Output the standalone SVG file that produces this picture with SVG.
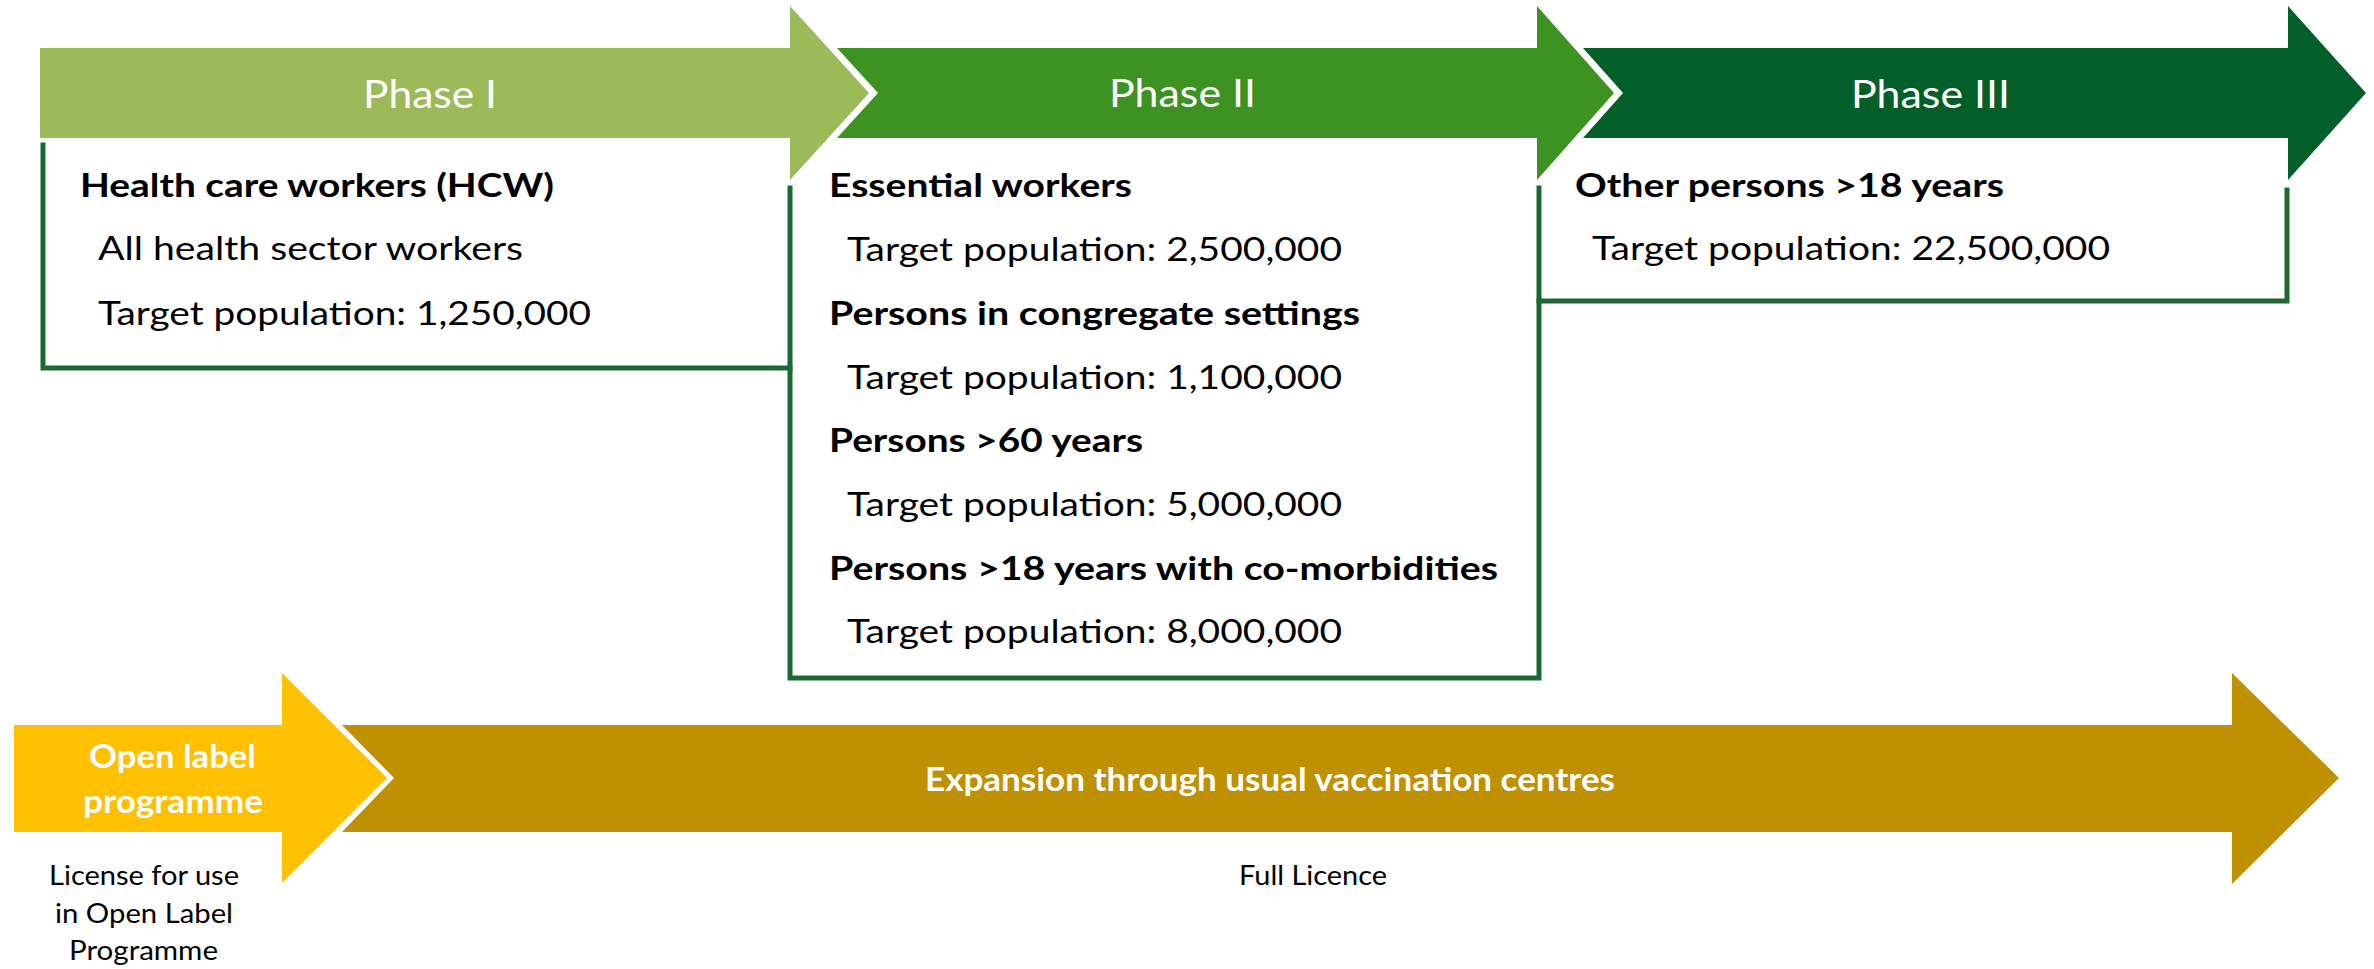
<svg xmlns="http://www.w3.org/2000/svg" width="2374" height="969" viewBox="0 0 2374 969">
  <style>
    text { font-family: Lato, "Liberation Sans", sans-serif; }
    .title { fill: #ffffff; font-size: 38px; }
    .b { font-weight: bold; fill: #000000; font-size: 33px; }
    .r { fill: #000000; font-size: 33px; }
    .wb { font-weight: bold; fill: #ffffff; font-size: 32px; }
    .s { fill: #000000; font-size: 26px; }
    .box { fill: none; stroke: #1B6A32; stroke-width: 5; stroke-linecap: square; }
  </style>
  <rect x="0" y="0" width="2374" height="969" fill="#ffffff"/>

  <g id="connectors">
    <path class="box" d="M43,145 V368 H790"/>
    <path class="box" d="M790,188 V678 H1539 V188"/>
    <path class="box" d="M1539,301 H2287 V190"/>
  </g>

  <g id="phase1">
    <polygon points="40,48 790,48 790,6 869,93 790,180 790,138 40,138" fill="#9BBB59"/>
    <text class="title" x="363" y="108" textLength="134" lengthAdjust="spacingAndGlyphs">Phase I</text>
    <text class="b" x="80" y="197" textLength="474" lengthAdjust="spacingAndGlyphs">Health care workers (HCW)</text>
    <text class="r" x="98" y="260" textLength="425" lengthAdjust="spacingAndGlyphs">All health sector workers</text>
    <text class="r" x="98" y="325" textLength="493" lengthAdjust="spacingAndGlyphs">Target population: 1,250,000</text>
  </g>

  <g id="phase2">
    <polygon points="837,48 1537,48 1537,6 1614,93 1537,180 1537,138 837,138 878,93" fill="#3C9321"/>
    <text class="title" x="1109" y="107" textLength="147" lengthAdjust="spacingAndGlyphs">Phase II</text>
    <text class="b" x="829" y="197" textLength="303" lengthAdjust="spacingAndGlyphs">Essential workers</text>
    <text class="r" x="847" y="261" textLength="495" lengthAdjust="spacingAndGlyphs">Target population: 2,500,000</text>
    <text class="b" x="829" y="325" textLength="531" lengthAdjust="spacingAndGlyphs">Persons in congregate settings</text>
    <text class="r" x="847" y="389" textLength="495" lengthAdjust="spacingAndGlyphs">Target population: 1,100,000</text>
    <text class="b" x="829" y="452" textLength="314" lengthAdjust="spacingAndGlyphs">Persons &gt;60 years</text>
    <text class="r" x="847" y="516" textLength="495" lengthAdjust="spacingAndGlyphs">Target population: 5,000,000</text>
    <text class="b" x="829" y="580" textLength="669" lengthAdjust="spacingAndGlyphs">Persons &gt;18 years with co-morbidities</text>
    <text class="r" x="847" y="643" textLength="495" lengthAdjust="spacingAndGlyphs">Target population: 8,000,000</text>
  </g>

  <g id="phase3">
    <polygon points="1583,48 2288,48 2288,6 2366,93 2288,180 2288,138 1583,138 1623,93" fill="#035F2A"/>
    <text class="title" x="1851" y="108" textLength="159" lengthAdjust="spacingAndGlyphs">Phase III</text>
    <text class="b" x="1575" y="197" textLength="429" lengthAdjust="spacingAndGlyphs">Other persons &gt;18 years</text>
    <text class="r" x="1592" y="260" textLength="518" lengthAdjust="spacingAndGlyphs">Target population: 22,500,000</text>
  </g>

  <g id="openlabel">
    <polygon points="14,725 282,725 282,673 387,778 282,883 282,832 14,832" fill="#FFC000"/>
    <text class="wb" x="89" y="768" textLength="167" lengthAdjust="spacingAndGlyphs">Open label</text>
    <text class="wb" x="83" y="813" textLength="180" lengthAdjust="spacingAndGlyphs">programme</text>
    <text class="s" x="49" y="885" textLength="190" lengthAdjust="spacingAndGlyphs">License for use</text>
    <text class="s" x="55" y="923" textLength="178" lengthAdjust="spacingAndGlyphs">in Open Label</text>
    <text class="s" x="69" y="960" textLength="149" lengthAdjust="spacingAndGlyphs">Programme</text>
  </g>

  <g id="expansion">
    <polygon points="342,725 2232,725 2232,673 2339,778 2232,884 2232,832 342,832 394,778" fill="#BF9000"/>
    <text class="wb" x="925" y="791" textLength="690" lengthAdjust="spacingAndGlyphs">Expansion through usual vaccination centres</text>
    <text class="s" x="1239" y="885" textLength="148" lengthAdjust="spacingAndGlyphs">Full Licence</text>
  </g>
</svg>
